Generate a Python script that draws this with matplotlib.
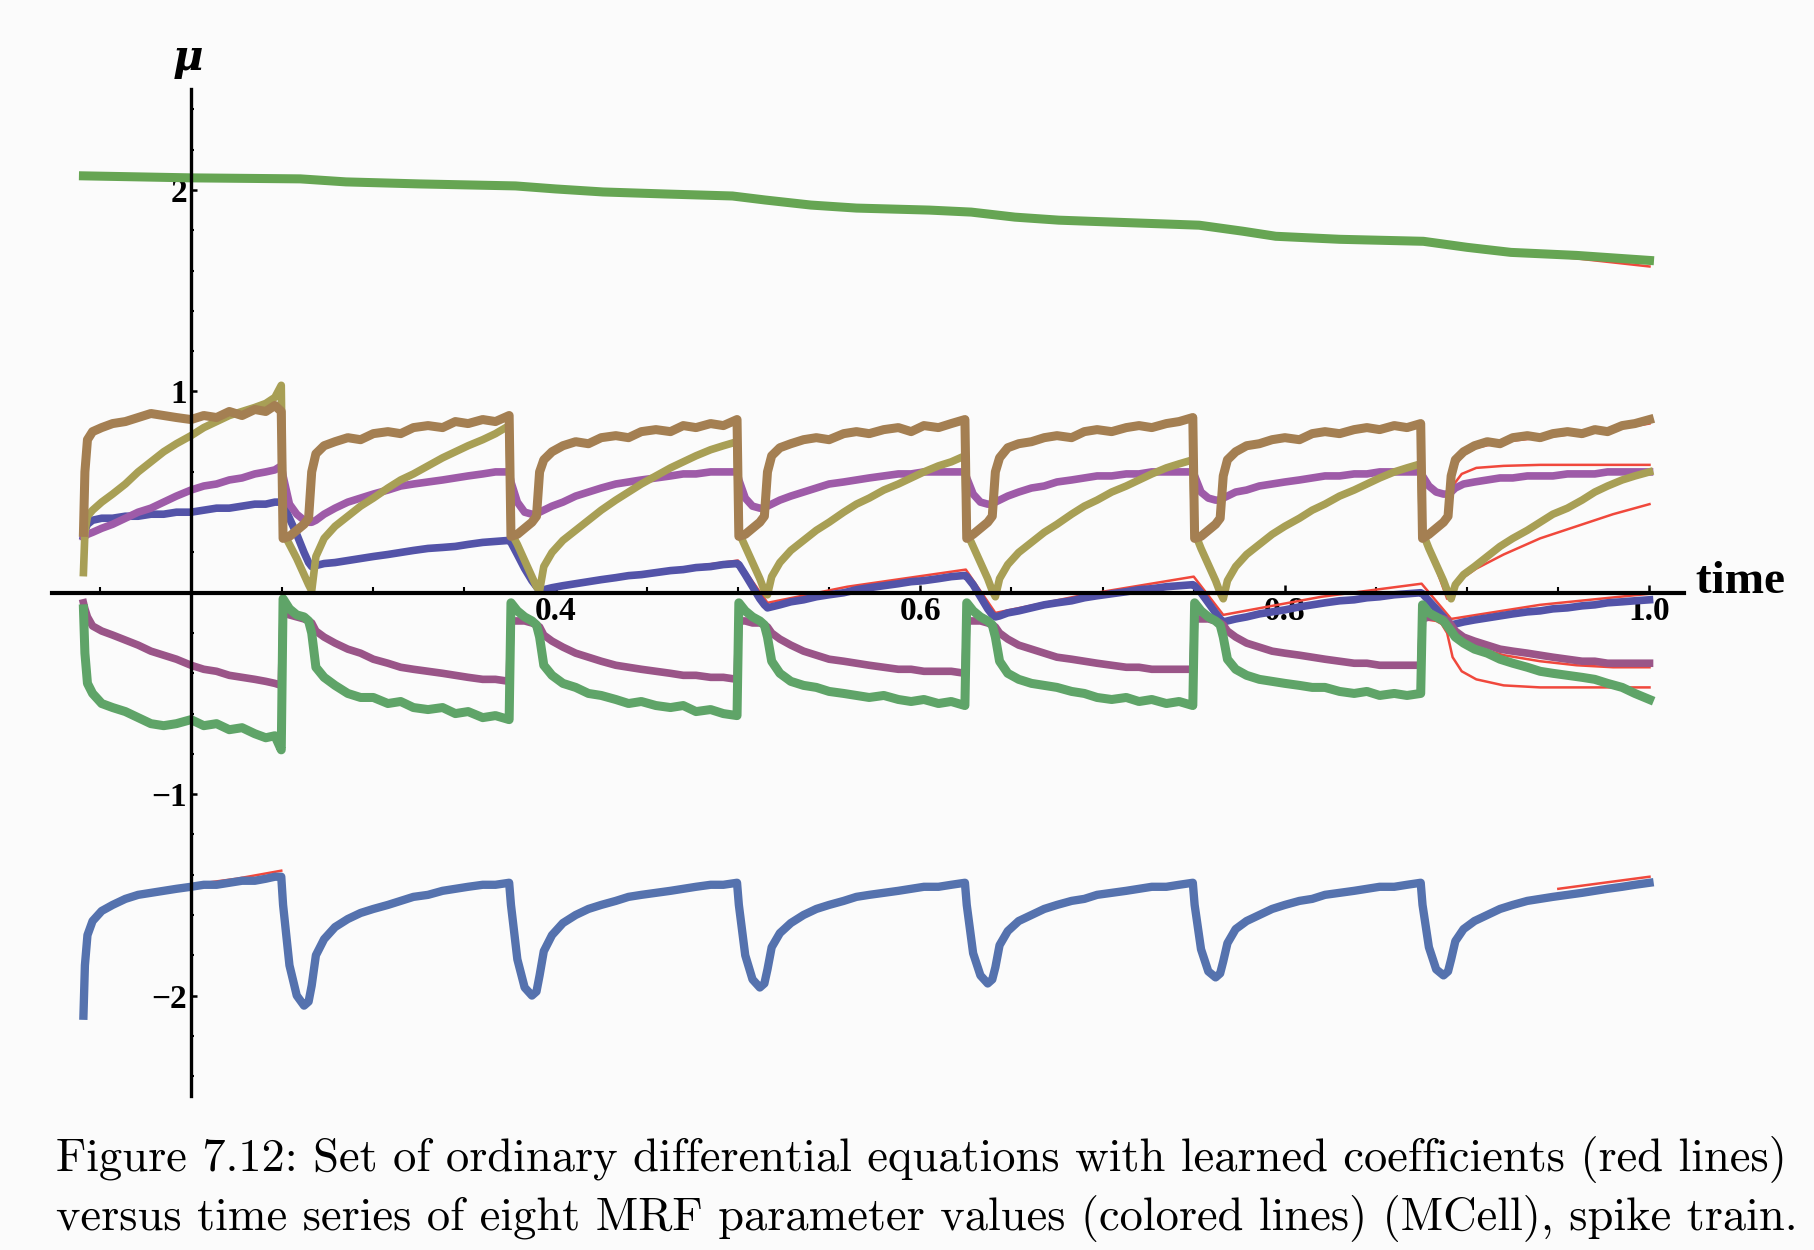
import numpy as np
import matplotlib.pyplot as plt
from matplotlib.ticker import FixedLocator, FixedFormatter
import matplotlib.transforms as mtransforms

# time samples shared by the seven clustered series (spikes every 0.125)
t = [0.141, 0.1418, 0.1432, 0.146, 0.151, 0.157, 0.164, 0.171, 0.178, 0.185, 0.192, 0.2, 0.207, 0.214, 0.221, 0.228, 0.235, 0.241, 0.246, 0.2495,
     0.2505, 0.254, 0.258, 0.262, 0.2645, 0.2662, 0.2685, 0.273, 0.279, 0.286, 0.293, 0.3, 0.308, 0.315, 0.322, 0.33, 0.338, 0.345, 0.352, 0.36, 0.367, 0.3745,
     0.3755, 0.379, 0.383, 0.387, 0.3895, 0.3912, 0.3935, 0.398, 0.404, 0.411, 0.418, 0.425, 0.433, 0.44, 0.447, 0.455, 0.463, 0.47, 0.477, 0.485, 0.492, 0.4995,
     0.5005, 0.504, 0.508, 0.512, 0.5145, 0.5162, 0.5185, 0.523, 0.529, 0.536, 0.543, 0.55, 0.558, 0.565, 0.572, 0.58, 0.588, 0.595, 0.602, 0.61, 0.617, 0.6245,
     0.6255, 0.629, 0.633, 0.637, 0.6395, 0.6412, 0.6435, 0.648, 0.654, 0.661, 0.668, 0.675, 0.683, 0.69, 0.697, 0.705, 0.713, 0.72, 0.727, 0.735, 0.742, 0.7495,
     0.7505, 0.754, 0.758, 0.762, 0.7645, 0.7662, 0.7685, 0.773, 0.779, 0.786, 0.793, 0.8, 0.808, 0.815, 0.822, 0.83, 0.838, 0.845, 0.852, 0.86, 0.867, 0.8745,
     0.8755, 0.879, 0.883, 0.887, 0.8895, 0.8912, 0.8935, 0.898, 0.904, 0.911, 0.918, 0.925, 0.933, 0.94, 0.947, 0.955, 0.963, 0.97, 0.977, 0.985, 0.992, 1.0]

brown = [0.3, 0.6, 0.76, 0.8, 0.82, 0.84, 0.85, 0.87, 0.89, 0.88, 0.87, 0.86, 0.88, 0.87, 0.9, 0.88, 0.91, 0.9, 0.93, 0.9,
         0.27, 0.28, 0.31, 0.34, 0.37, 0.6, 0.69, 0.73, 0.75, 0.77, 0.76, 0.79, 0.8, 0.79, 0.82, 0.83, 0.82, 0.85, 0.84, 0.86, 0.85, 0.88,
         0.28, 0.29, 0.32, 0.35, 0.38, 0.6, 0.66, 0.7, 0.73, 0.75, 0.74, 0.77, 0.78, 0.77, 0.8, 0.81, 0.8, 0.83, 0.82, 0.84, 0.83, 0.86,
         0.28, 0.29, 0.32, 0.35, 0.38, 0.6, 0.68, 0.72, 0.74, 0.76, 0.77, 0.76, 0.79, 0.8, 0.79, 0.81, 0.82, 0.8, 0.83, 0.82, 0.84, 0.86,
         0.27, 0.29, 0.32, 0.35, 0.38, 0.6, 0.67, 0.72, 0.74, 0.75, 0.77, 0.78, 0.77, 0.8, 0.81, 0.8, 0.82, 0.83, 0.82, 0.84, 0.85, 0.87,
         0.27, 0.28, 0.31, 0.34, 0.37, 0.58, 0.66, 0.7, 0.73, 0.74, 0.76, 0.77, 0.76, 0.79, 0.8, 0.79, 0.81, 0.82, 0.81, 0.83, 0.82, 0.84,
         0.27, 0.29, 0.32, 0.35, 0.38, 0.58, 0.66, 0.7, 0.73, 0.75, 0.74, 0.77, 0.78, 0.77, 0.79, 0.8, 0.79, 0.81, 0.8, 0.83, 0.84, 0.86]

olive = [0.1, 0.3, 0.38, 0.41, 0.45, 0.49, 0.54, 0.6, 0.65, 0.7, 0.74, 0.78, 0.82, 0.85, 0.88, 0.9, 0.92, 0.94, 0.97, 1.03,
         0.3, 0.24, 0.17, 0.09, 0.04, 0.01, 0.18, 0.27, 0.33, 0.38, 0.43, 0.47, 0.52, 0.56, 0.59, 0.63, 0.67, 0.7, 0.73, 0.76, 0.79, 0.83,
         0.3, 0.24, 0.16, 0.08, 0.03, 0.01, 0.13, 0.2, 0.26, 0.31, 0.36, 0.41, 0.46, 0.5, 0.54, 0.58, 0.62, 0.65, 0.68, 0.71, 0.73, 0.75,
         0.3, 0.23, 0.15, 0.07, 0.01, -0.01, 0.08, 0.15, 0.21, 0.26, 0.31, 0.35, 0.4, 0.44, 0.47, 0.51, 0.54, 0.57, 0.6, 0.63, 0.65, 0.68,
         0.3, 0.23, 0.15, 0.07, 0.01, -0.02, 0.07, 0.14, 0.2, 0.25, 0.3, 0.34, 0.39, 0.43, 0.46, 0.5, 0.53, 0.56, 0.59, 0.62, 0.64, 0.66,
         0.3, 0.22, 0.14, 0.06, 0.0, -0.03, 0.06, 0.13, 0.19, 0.24, 0.29, 0.33, 0.37, 0.41, 0.44, 0.48, 0.51, 0.54, 0.57, 0.6, 0.62, 0.64,
         0.3, 0.22, 0.14, 0.06, 0.0, -0.03, 0.04, 0.09, 0.13, 0.18, 0.23, 0.27, 0.31, 0.35, 0.39, 0.42, 0.46, 0.5, 0.53, 0.56, 0.58, 0.6]

purple_up = [0.28, 0.28, 0.29, 0.3, 0.32, 0.34, 0.37, 0.4, 0.42, 0.45, 0.48, 0.51, 0.53, 0.54, 0.56, 0.57, 0.59, 0.6, 0.61, 0.63,
             0.58, 0.44, 0.39, 0.36, 0.35, 0.35, 0.36, 0.39, 0.42, 0.45, 0.47, 0.49, 0.51, 0.53, 0.54, 0.55, 0.56, 0.57, 0.58, 0.59, 0.6, 0.6,
             0.55, 0.45, 0.4, 0.39, 0.39, 0.4, 0.41, 0.43, 0.45, 0.48, 0.5, 0.52, 0.54, 0.55, 0.56, 0.57, 0.58, 0.59, 0.59, 0.6, 0.6, 0.6,
             0.56, 0.47, 0.43, 0.42, 0.42, 0.43, 0.44, 0.46, 0.48, 0.5, 0.52, 0.54, 0.55, 0.56, 0.57, 0.58, 0.59, 0.59, 0.6, 0.6, 0.6, 0.6,
             0.57, 0.49, 0.45, 0.44, 0.44, 0.45, 0.46, 0.48, 0.5, 0.52, 0.53, 0.55, 0.56, 0.57, 0.58, 0.58, 0.59, 0.59, 0.6, 0.6, 0.6, 0.6,
             0.58, 0.5, 0.47, 0.46, 0.46, 0.47, 0.48, 0.5, 0.51, 0.53, 0.54, 0.55, 0.56, 0.57, 0.58, 0.58, 0.59, 0.59, 0.6, 0.6, 0.6, 0.6,
             0.58, 0.53, 0.5, 0.49, 0.49, 0.5, 0.52, 0.54, 0.55, 0.56, 0.57, 0.57, 0.58, 0.58, 0.58, 0.59, 0.59, 0.59, 0.6, 0.6, 0.6, 0.6]

blue_up = [0.28, 0.31, 0.34, 0.36, 0.37, 0.37, 0.38, 0.38, 0.39, 0.39, 0.4, 0.4, 0.41, 0.42, 0.42, 0.43, 0.44, 0.44, 0.45, 0.45,
           0.44, 0.37, 0.29, 0.2, 0.15, 0.13, 0.135, 0.145, 0.15, 0.16, 0.17, 0.18, 0.19, 0.2, 0.21, 0.22, 0.225, 0.23, 0.24, 0.25, 0.255, 0.26,
           0.25, 0.19, 0.12, 0.06, 0.03, 0.01, 0.015, 0.025, 0.035, 0.045, 0.055, 0.065, 0.075, 0.085, 0.09, 0.1, 0.11, 0.115, 0.125, 0.13, 0.14, 0.145,
           0.14, 0.09, 0.03, -0.03, -0.06, -0.075, -0.07, -0.06, -0.045, -0.035, -0.02, -0.01, 0.0, 0.015, 0.025, 0.035, 0.045, 0.055, 0.06, 0.07, 0.08, 0.086,
           0.08, 0.04, -0.02, -0.08, -0.11, -0.12, -0.115, -0.1, -0.09, -0.075, -0.06, -0.05, -0.04, -0.025, -0.015, -0.005, 0.005, 0.015, 0.02, 0.03, 0.035, 0.04,
           0.035, 0.0, -0.05, -0.1, -0.13, -0.145, -0.14, -0.13, -0.12, -0.105, -0.095, -0.085, -0.07, -0.06, -0.05, -0.04, -0.035, -0.025, -0.02, -0.01, -0.005, 0.0,
           -0.005, -0.04, -0.08, -0.12, -0.15, -0.16, -0.155, -0.145, -0.135, -0.125, -0.115, -0.105, -0.095, -0.09, -0.08, -0.075, -0.065, -0.06, -0.05, -0.045, -0.04, -0.035]

purple_low = [-0.05, -0.08, -0.12, -0.165, -0.19, -0.21, -0.235, -0.26, -0.29, -0.31, -0.33, -0.36, -0.38, -0.39, -0.41, -0.42, -0.43, -0.44, -0.45, -0.46,
              -0.1, -0.11, -0.12, -0.13, -0.14, -0.15, -0.19, -0.22, -0.25, -0.28, -0.3, -0.33, -0.35, -0.37, -0.38, -0.39, -0.4, -0.41, -0.42, -0.43, -0.43, -0.44,
              -0.14, -0.14, -0.14, -0.15, -0.16, -0.17, -0.21, -0.24, -0.27, -0.3, -0.32, -0.34, -0.36, -0.37, -0.38, -0.39, -0.4, -0.41, -0.41, -0.42, -0.42, -0.43,
              -0.14, -0.14, -0.15, -0.15, -0.16, -0.17, -0.2, -0.23, -0.26, -0.29, -0.31, -0.33, -0.34, -0.35, -0.36, -0.37, -0.38, -0.38, -0.39, -0.39, -0.39, -0.4,
              -0.14, -0.14, -0.14, -0.15, -0.16, -0.17, -0.2, -0.23, -0.26, -0.28, -0.3, -0.32, -0.33, -0.34, -0.35, -0.36, -0.37, -0.37, -0.38, -0.38, -0.38, -0.38,
              -0.13, -0.13, -0.13, -0.14, -0.15, -0.16, -0.19, -0.22, -0.25, -0.27, -0.29, -0.3, -0.31, -0.32, -0.33, -0.34, -0.35, -0.35, -0.36, -0.36, -0.36, -0.36,
              -0.13, -0.12, -0.12, -0.13, -0.14, -0.16, -0.19, -0.22, -0.24, -0.26, -0.28, -0.29, -0.3, -0.31, -0.32, -0.33, -0.34, -0.34, -0.35, -0.35, -0.35, -0.35]

green_low = [-0.08, -0.3, -0.45, -0.5, -0.55, -0.57, -0.59, -0.62, -0.65, -0.66, -0.65, -0.63, -0.66, -0.65, -0.68, -0.67, -0.7, -0.72, -0.71, -0.78,
             -0.03, -0.08, -0.11, -0.12, -0.14, -0.2, -0.37, -0.42, -0.46, -0.5, -0.52, -0.52, -0.55, -0.54, -0.57, -0.58, -0.57, -0.6, -0.59, -0.62, -0.61, -0.63,
             -0.05, -0.09, -0.12, -0.14, -0.16, -0.22, -0.36, -0.41, -0.45, -0.47, -0.5, -0.51, -0.53, -0.55, -0.54, -0.56, -0.57, -0.56, -0.59, -0.58, -0.6, -0.61,
             -0.05, -0.09, -0.12, -0.14, -0.16, -0.22, -0.34, -0.4, -0.44, -0.46, -0.47, -0.49, -0.5, -0.51, -0.52, -0.51, -0.53, -0.54, -0.53, -0.55, -0.54, -0.56,
             -0.05, -0.09, -0.12, -0.14, -0.16, -0.22, -0.34, -0.4, -0.43, -0.45, -0.46, -0.47, -0.49, -0.5, -0.52, -0.53, -0.52, -0.54, -0.53, -0.55, -0.54, -0.56,
             -0.05, -0.09, -0.12, -0.14, -0.16, -0.22, -0.33, -0.38, -0.41, -0.43, -0.44, -0.45, -0.46, -0.47, -0.47, -0.49, -0.5, -0.49, -0.51, -0.5, -0.51, -0.5,
             -0.06, -0.1, -0.12, -0.14, -0.17, -0.19, -0.22, -0.25, -0.28, -0.3, -0.33, -0.35, -0.37, -0.39, -0.4, -0.41, -0.42, -0.43, -0.45, -0.47, -0.5, -0.53]

blue_low = [-2.1, -1.85, -1.7, -1.63, -1.58, -1.55, -1.52, -1.5, -1.49, -1.48, -1.47, -1.46, -1.45, -1.45, -1.44, -1.43, -1.43, -1.42, -1.41, -1.41,
            -1.55, -1.85, -2.0, -2.05, -2.03, -1.95, -1.8, -1.72, -1.66, -1.62, -1.59, -1.57, -1.55, -1.53, -1.51, -1.5, -1.48, -1.47, -1.46, -1.45, -1.45, -1.44,
            -1.55, -1.82, -1.96, -2.0, -1.98, -1.9, -1.78, -1.7, -1.64, -1.6, -1.57, -1.55, -1.53, -1.51, -1.5, -1.49, -1.48, -1.47, -1.46, -1.45, -1.45, -1.44,
            -1.55, -1.8, -1.92, -1.96, -1.94, -1.87, -1.76, -1.69, -1.64, -1.6, -1.57, -1.55, -1.53, -1.51, -1.5, -1.49, -1.48, -1.47, -1.46, -1.46, -1.45, -1.44,
            -1.55, -1.79, -1.9, -1.94, -1.92, -1.86, -1.75, -1.68, -1.63, -1.6, -1.57, -1.55, -1.53, -1.52, -1.5, -1.49, -1.48, -1.47, -1.46, -1.46, -1.45, -1.44,
            -1.55, -1.77, -1.88, -1.91, -1.89, -1.83, -1.74, -1.67, -1.63, -1.6, -1.57, -1.55, -1.53, -1.52, -1.5, -1.49, -1.48, -1.47, -1.46, -1.46, -1.45, -1.44,
            -1.55, -1.76, -1.87, -1.9, -1.88, -1.82, -1.73, -1.67, -1.63, -1.6, -1.57, -1.55, -1.53, -1.52, -1.51, -1.5, -1.49, -1.48, -1.47, -1.46, -1.45, -1.44]

# slowly decaying top parameter
top_t = [0.141, 0.2, 0.26, 0.285, 0.325, 0.378, 0.4, 0.426, 0.46, 0.497, 0.515, 0.54, 0.565, 0.605, 0.628, 0.652, 0.676, 0.722, 0.753, 0.777, 0.795, 0.83, 0.876, 0.9, 0.924, 0.96, 1.0]
top_green = [2.07, 2.06, 2.055, 2.04, 2.03, 2.02, 2.005, 1.99, 1.98, 1.97, 1.95, 1.925, 1.91, 1.9, 1.89, 1.865, 1.85, 1.835, 1.825, 1.795, 1.77, 1.755, 1.745, 1.715, 1.69, 1.675, 1.65]

# learned ODE solutions (red), only where they part from the data
top_fit_t = [0.876, 0.9, 0.93, 0.96, 1.0]
top_fit = [1.745, 1.715, 1.685, 1.66, 1.62]
blue_fit_t = [0.391, 0.45, 0.5, 0.5162, 0.56, 0.625, 0.6412, 0.69, 0.75, 0.7662, 0.82, 0.875, 0.8912, 0.94, 1.0]
blue_fit = [0.02, 0.1, 0.16, -0.05, 0.03, 0.115, -0.1, -0.01, 0.08, -0.11, -0.02, 0.045, -0.13, -0.06, -0.005]
p7_t = [0.8755, 0.883, 0.889, 0.892, 0.897, 0.905, 0.92, 0.94, 0.96, 0.98, 1.0]
brown_fit = [0.27, 0.32, 0.36, 0.6, 0.68, 0.72, 0.75, 0.77, 0.79, 0.81, 0.84]
purple_fit = [0.58, 0.5, 0.48, 0.53, 0.59, 0.62, 0.63, 0.635, 0.635, 0.635, 0.635]
olive_fit = [0.3, 0.12, -0.03, 0.02, 0.07, 0.12, 0.19, 0.27, 0.33, 0.39, 0.44]
green_fit = [-0.06, -0.11, -0.2, -0.32, -0.39, -0.43, -0.46, -0.47, -0.47, -0.47, -0.47]
lowpurple_fit = [-0.13, -0.14, -0.17, -0.2, -0.24, -0.27, -0.31, -0.34, -0.36, -0.37, -0.37]
bluelow_fit_t = [0.2, 0.225, 0.2495, 0.95, 0.975, 1.0]
bluelow_fit = [-1.45, -1.42, -1.38, -1.47, -1.44, -1.41]

bg = '#fbfbfb'
red = '#f0483c'

fig = plt.figure(figsize=(18.15, 12.5), dpi=100, facecolor=bg)
ax = fig.add_axes([0.0287, 0.123, 0.8992, 0.8056])
ax.set_facecolor('none')
ax.set_xlim(0.1238, 1.019)
ax.set_ylim(-2.5, 2.5)

# red fits underneath
ax.plot(top_t, top_green, color=red, lw=1.8, zorder=2)
ax.plot(top_fit_t, top_fit, color=red, lw=1.8, zorder=2)
ax.plot(blue_fit_t, blue_fit, color=red, lw=1.8, zorder=2)
for fit in [brown_fit, purple_fit, olive_fit, green_fit, lowpurple_fit]:
    ax.plot(p7_t, fit, color=red, lw=1.8, zorder=2)
ax.plot(bluelow_fit_t[:3], bluelow_fit[:3], color=red, lw=1.8, zorder=2)
ax.plot(bluelow_fit_t[3:], bluelow_fit[3:], color=red, lw=1.8, zorder=2)

# data
ax.plot(top_t, top_green, color='#66a553', lw=6.5, zorder=3)
ax.plot(t, blue_up, color='#5353a8', lw=5.5, zorder=3)
ax.plot(t, purple_up, color='#9e5ba8', lw=5.5, zorder=3)
ax.plot(t, olive, color='#a89f55', lw=5.5, zorder=3)
ax.plot(t, brown, color='#a47f52', lw=6.5, zorder=3)
ax.plot(t, purple_low, color='#9a5588', lw=5.5, zorder=3)
ax.plot(t, green_low, color='#5fa468', lw=6.5, zorder=3)
ax.plot(t, blue_low, color='#5572ae', lw=6, zorder=3)

# axes through (0.2, 0)
for s in ['top', 'right']:
    ax.spines[s].set_visible(False)
ax.spines['left'].set_position(('data', 0.2))
ax.spines['bottom'].set_position(('data', 0))
ax.spines['left'].set_linewidth(2.4)
ax.spines['bottom'].set_linewidth(3)
ax.spines['left'].set_zorder(4)
ax.spines['bottom'].set_zorder(4)

tick_font = dict(family='Liberation Serif', weight='bold', size=24)
ax.xaxis.set_major_locator(FixedLocator([0.4, 0.6, 0.8, 1.0]))
ax.xaxis.set_major_formatter(FixedFormatter(['0.4', '0.6', '0.8', '1.0']))
ax.xaxis.set_minor_locator(FixedLocator([0.15, 0.25, 0.3, 0.35, 0.45, 0.5, 0.55, 0.65, 0.7, 0.75, 0.85, 0.9, 0.95]))
ax.yaxis.set_major_locator(FixedLocator([-2, -1, 1, 2]))
ax.yaxis.set_major_formatter(FixedFormatter(['\u22122', '\u22121', '1', '2']))
ax.yaxis.set_minor_locator(FixedLocator([-2.4, -2.2, -1.8, -1.6, -1.4, -1.2, -0.8, -0.6, -0.4, -0.2,
                                         0.2, 0.4, 0.6, 0.8, 1.2, 1.4, 1.6, 1.8, 2.2, 2.4]))
ax.tick_params(axis='x', which='major', direction='in', length=6, width=1.8, pad=2)
ax.tick_params(axis='x', which='minor', direction='in', length=4, width=1.5)
ax.tick_params(axis='y', which='major', direction='in', length=4, width=1.8, pad=3)
ax.tick_params(axis='y', which='minor', direction='in', length=2.5, width=1.5)
for lab in ax.get_xticklabels() + ax.get_yticklabels():
    lab.set_fontproperties(tick_font)

trans = mtransforms.blended_transform_factory(ax.transAxes, ax.transData)
ax.text(1.0, 0, ' time', transform=trans, ha='left', va='baseline',
        family='Liberation Serif', weight='bold', fontsize=34)
ax.annotate('\u03bc', xy=(0.2, 2.5), xytext=(-2, 14), textcoords='offset points',
            ha='center', va='baseline', family='DejaVu Serif', style='italic',
            weight='bold', fontsize=30)

cap1 = 'Figure 7.12: Set of ordinary differential equations with learned coefficients (red lines)'
cap2 = 'versus time series of eight MRF parameter values (colored lines) (MCell), spike train.'
c1 = fig.text(0.0306, 0.063, cap1, family='cmr10', fontsize=30, va='baseline')
c2 = fig.text(0.0306, 0.016, cap2, family='cmr10', fontsize=30, va='baseline')
fig.canvas.draw()
w1 = c1.get_window_extent().width
size = 30 * 1733 / w1
c1.set_fontsize(size)
c2.set_fontsize(size)

fig.savefig('out.png', dpi=100, facecolor=bg)
